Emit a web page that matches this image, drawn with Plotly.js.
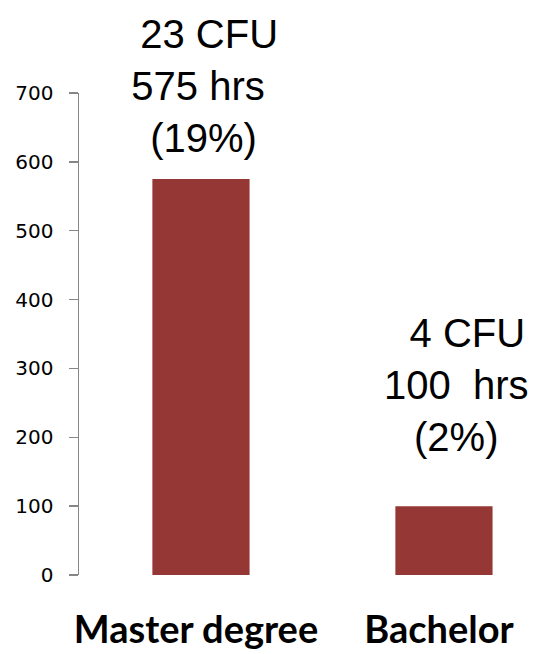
<!DOCTYPE html>
<html>
<head>
<meta charset="utf-8">
<script src="https://cdn.plot.ly/plotly-3.0.1.min.js"></script>
<style>html,body{margin:0;padding:0;background:#fff;}#chart{width:538px;height:654px;}</style>
</head>
<body>
<div id="chart"></div>
<script>
const categories = ["Master degree", "Bachelor"];
const hours = [575, 100];
const barLabels = [
  "\u00a0\u00a023 CFU<br>575 hrs<br>\u00a0(19%)",
  "\u00a0\u00a04 CFU<br>100\u00a0\u00a0hrs<br>(2%)"
];
const yTicks = [0, 100, 200, 300, 400, 500, 600, 700];

const barColor = "#953735";
const axisColor = "#868686";

const trace = {
  type: "bar",
  x: categories,
  y: hours,
  width: 0.4,
  marker: {color: barColor},
  hoverinfo: "none"
};

const labelShifts = [{x: -3, y: 17}, {x: 13, y: 45}];
const annotations = categories.map((c, i) => ({
  x: c, y: hours[i], xref: "x", yref: "y",
  text: barLabels[i], showarrow: false,
  xanchor: "center", yanchor: "bottom",
  xshift: labelShifts[i].x, yshift: labelShifts[i].y,
  align: "center",
  font: {family: "Liberation Sans, Arial, sans-serif", size: 40, color: "#000"}
}));

const layout = {
  width: 538, height: 654,
  margin: {l: 79, r: 0, t: 93, b: 78.5, pad: 0},
  paper_bgcolor: "#fff", plot_bgcolor: "#fff",
  showlegend: false,
  xaxis: {
    type: "category",
    range: [-0.502, 1.387],
    showline: false, showgrid: false, zeroline: false,
    ticks: "", ticklabelshift: -5, ticklabelstandoff: 29,
    tickfont: {family: "Lato, sans-serif", size: 38, color: "#000", weight: "bold"}
  },
  yaxis: {
    range: [0, 700],
    tickvals: yTicks,
    showline: true, linecolor: axisColor, linewidth: 1.5,
    ticks: "outside", ticklen: 9, tickwidth: 1.5, tickcolor: axisColor,
    showgrid: false, zeroline: false,
    ticklabelstandoff: 11,
    tickfont: {family: "DejaVu Sans, sans-serif", size: 20, color: "#000"}
  },
  annotations: annotations
};

Plotly.newPlot("chart", [trace], layout, {displayModeBar: false, staticPlot: true});
</script>
</body>
</html>
